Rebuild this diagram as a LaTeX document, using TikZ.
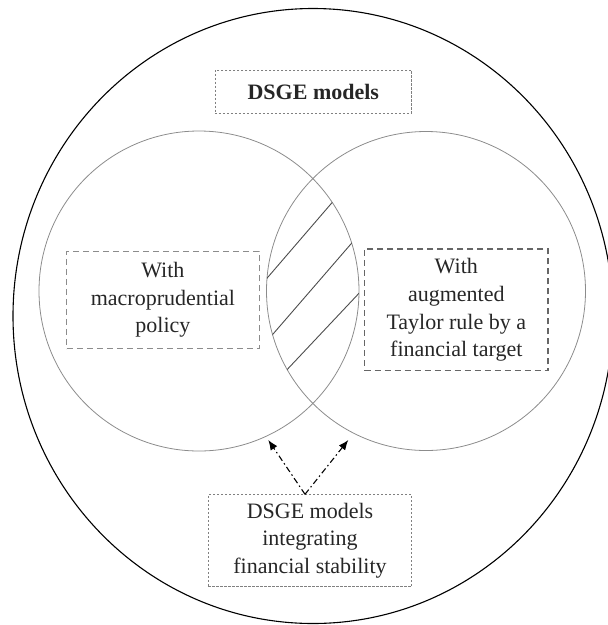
\documentclass[tikz,border=0pt]{standalone}
\usepackage{fontspec}
\setmainfont{Liberation Serif}
\usetikzlibrary{arrows.meta, positioning, calc}

\begin{document}
\begin{tikzpicture}[
  x=1pt, y=-1pt,
  outerset/.style = {
    draw=black,
    line width=1.1pt
  },
  venn/.style = {
    draw=black!45,
    line width=0.8pt,
    circle,
    inner sep=0pt
  },
  hatch/.style = {draw=black!70, line width=0.9pt},
  dotbox/.style = {
    draw=black!50,
    line width=0.8pt,
    dash pattern=on 2.5pt off 1.5pt,
    inner sep=0pt,
    align=center
  },
  dashbox/.style = {
    draw=black!45,
    line width=0.9pt,
    dash pattern=on 6pt off 4pt,
    inner sep=0pt,
    align=center
  },
  darkdashbox/.style = {
    dashbox,
    draw=black!60,
    line width=1.3pt
  },
  arrow/.style = {
    line width=1.1pt,
    dash pattern=on 6pt off 3pt on 1.5pt off 3pt,
    -{Latex[length=10pt, width=8pt]}
  },
  every node/.style = {text=black!85, font=\fontsize{22}{27.7}\selectfont}
]

\clip (0,0) rectangle (608,625);

% ======================================================
% OUTER SET AND THE TWO SUBSETS
% ======================================================

\draw[outerset] (313,316) ellipse [x radius=300pt, y radius=307.5pt];

\node[venn, minimum size=320pt] (macro) at (199,291) {};
\node[venn, minimum size=319pt] (taylor) at (426,291) {};

% hatched overlap
\begin{scope}
  \clip (macro.center) circle [radius=160pt];
  \clip (taylor.center) circle [radius=159.5pt];
  \draw[hatch] (259,287.5) -- (339.3,194.2);
  \draw[hatch] (263.8,344.7) -- (361.3,232);
  \draw[hatch] (276.1,381.3) -- (367.9,283.8);
\end{scope}

% ======================================================
% LABELS
% ======================================================

\node[dotbox, minimum width=196.7pt, minimum height=43pt,
      font=\bfseries\fontsize{22}{27.7}\selectfont] (dsge) at (313.3,91.5) {DSGE models};

\node[dashbox, minimum width=192.3pt, minimum height=97.7pt] (macrotext) at (162.9,299.9) {
  With\\
  macroprudential\\
  policy
};

\node[darkdashbox, minimum width=183.5pt, minimum height=121.7pt] (taylortext) at (456.3,309.9) {
  With\\
  augmented\\
  Taylor rule by a\\
  financial target
};

\node[dotbox, minimum width=203.4pt, minimum height=92pt] (stability) at (310,540.7) {
  DSGE models\\
  integrating\\
  financial stability
};

% arrows from the bottom box to both subsets
\coordinate (fork) at ($(stability.north)+(-5,0)$);
\coordinate (tip_macro) at (268.3,440);
\coordinate (tip_taylor) at (348.3,440);

\draw[arrow] (fork) -- (tip_macro);
\draw[arrow] (fork) -- (tip_taylor);

\end{tikzpicture}
\end{document}
